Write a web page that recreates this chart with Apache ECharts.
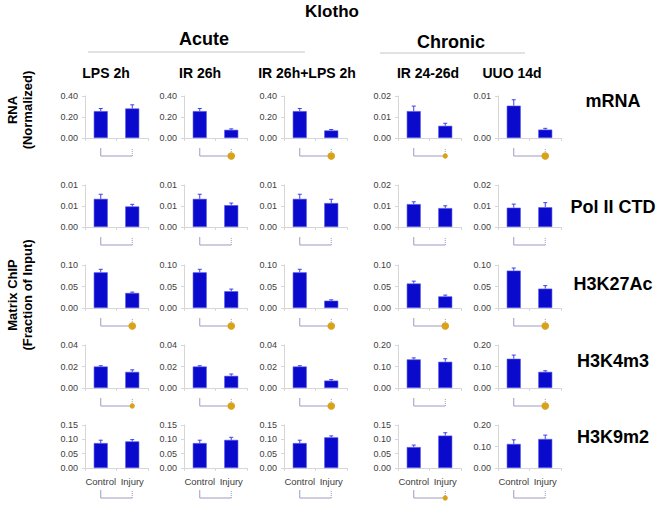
<!DOCTYPE html>
<html><head><meta charset="utf-8">
<script src="https://cdn.jsdelivr.net/npm/echarts@6/dist/echarts.min.js"></script>
<style>html,body{margin:0;padding:0;background:#fff}#c{width:660px;height:519px}</style>
</head><body><div id="c"></div>
<script>
const categories = ['Control', 'Injury'];
const columns = ['LPS 2h', 'IR 26h', 'IR 26h+LPS 2h', 'IR 24-26d', 'UUO 14d'];
const rowNames = ['mRNA', 'Pol II CTD', 'H3K27Ac', 'H3K4m3', 'H3K9m2'];

const mrnaValues = [[0.256, 0.281], [0.256, 0.078], [0.256, 0.072], [0.0128, 0.0058], [0.0077, 0.0020]];
const mrnaErrors = [[0.025, 0.035], [0.025, 0.009], [0.025, 0.009], [0.0024, 0.0012], [0.0014, 0.0003]];
const polValues = [[0.0067, 0.0049], [0.0067, 0.0052], [0.0067, 0.0057], [0.0109, 0.0090], [0.0092, 0.0094]];
const polErrors = [[0.0011, 0.0005], [0.0011, 0.0005], [0.0011, 0.0009], [0.0011, 0.0011], [0.0017, 0.0022]];
const k27Values = [[0.083, 0.035], [0.083, 0.039], [0.083, 0.017], [0.057, 0.027], [0.087, 0.045]];
const k27Errors = [[0.007, 0.002], [0.007, 0.005], [0.007, 0.002], [0.0055, 0.003], [0.006, 0.007]];
const k4Values = [[0.020, 0.015], [0.020, 0.0113], [0.020, 0.0069], [0.133, 0.122], [0.136, 0.075]];
const k4Errors = [[0.0007, 0.0019], [0.0007, 0.0017], [0.0007, 0.0009], [0.007, 0.014], [0.017, 0.005]];
const k9Values = [[0.087, 0.093], [0.087, 0.098], [0.087, 0.107], [0.073, 0.113], [0.112, 0.135]];
const k9Errors = [[0.010, 0.006], [0.010, 0.009], [0.010, 0.005], [0.007, 0.010], [0.019, 0.018]];

const axisMax = [[0.40, 0.40, 0.40, 0.02, 0.01], [0.01, 0.01, 0.01, 0.02, 0.02], [0.10, 0.10, 0.10, 0.10, 0.10], [0.04, 0.04, 0.04, 0.20, 0.20], [0.15, 0.15, 0.15, 0.15, 0.20]];
const axisInterval = [[0.20, 0.20, 0.20, 0.01, 0.01], [0.005, 0.005, 0.005, 0.01, 0.01], [0.05, 0.05, 0.05, 0.05, 0.05], [0.02, 0.02, 0.02, 0.10, 0.10], [0.05, 0.05, 0.05, 0.05, 0.10]];
// significance marker: 0 none, 1 small dot, 2 large dot
const sigDots = [[0, 2, 2, 1, 2], [0, 0, 0, 0, 0], [2, 2, 2, 2, 2], [1, 2, 2, 0, 2], [0, 0, 0, 1, 0]];

const allValues = [mrnaValues, polValues, k27Values, k4Values, k9Values];
const allErrors = [mrnaErrors, polErrors, k27Errors, k4Errors, k9Errors];

// layout
const colLeft = [85, 184, 284, 398, 498];
const plotW = 63;
const rowTop = [96, 185, 265, 345, 425];
const rowBottom = [138, 227, 308, 388, 468];
const colTitleX = [106, 200, 307, 428, 512];
const rowLabelY = [101, 207, 284, 361, 437];

const FONT = 'Liberation Sans, Arial, sans-serif';
const BAR = '#0a0acd';
const AXIS = '#d6d6d6';
const BRK = '#9c9cc0';
const DOT = '#d9a21b';

const grids = [], xAxes = [], yAxes = [], series = [];
let gi = 0;
for (let r = 0; r < 5; r++) {
  for (let c = 0; c < 5; c++) {
    grids.push({ left: colLeft[c], top: rowTop[r], width: plotW, height: rowBottom[r] - rowTop[r], containLabel: false });
    xAxes.push({
      type: 'category', gridIndex: gi, data: categories,
      axisLine: { lineStyle: { color: AXIS, width: 1 } },
      axisTick: { show: true, length: 3, lineStyle: { color: AXIS } },
      axisLabel: { show: r === 4, interval: 0, fontFamily: FONT, fontSize: 9.5, color: '#404040', margin: 8 }
    });
    yAxes.push({
      type: 'value', gridIndex: gi, min: 0, max: axisMax[r][c], interval: axisInterval[r][c],
      splitLine: { show: false },
      axisLine: { show: true, lineStyle: { color: AXIS } },
      axisTick: { show: true, length: 3, lineStyle: { color: AXIS } },
      axisLabel: { fontFamily: FONT, fontSize: 9, color: '#404040', margin: 7, formatter: v => v.toFixed(2) }
    });
    const vals = allValues[r][c];
    const errs = allErrors[r][c];
    series.push({
      type: 'bar', xAxisIndex: gi, yAxisIndex: gi, barWidth: 14,
      itemStyle: { color: BAR, borderColor: '#5555ee', borderWidth: 0.6 },
      data: vals, silent: true, animation: false
    });
    series.push({
      type: 'custom', xAxisIndex: gi, yAxisIndex: gi, animation: false, silent: true, z: 3,
      data: vals.map((v, i) => [i, v, errs[i]]),
      encode: { x: 0, y: 1 },
      renderItem: function (params, api) {
        const i = api.value(0), v = api.value(1), e = api.value(2);
        const p0 = api.coord([i, v]);
        const p1 = api.coord([i, v + e]);
        return {
          type: 'group', children: [
            { type: 'line', shape: { x1: p0[0], y1: p0[1], x2: p1[0], y2: p1[1] }, style: { stroke: '#4040e0', lineWidth: 1 } },
            { type: 'line', shape: { x1: p1[0] - 2, y1: p1[1], x2: p1[0] + 2, y2: p1[1] }, style: { stroke: '#4040e0', lineWidth: 1 } }
          ]
        };
      }
    });
    const off = r === 4 ? 30 : 18;
    series.push({
      type: 'custom', xAxisIndex: gi, yAxisIndex: gi, animation: false, silent: true, clip: false,
      data: [[0, 0, sigDots[r][c]]],
      encode: { x: 0, y: 1 },
      renderItem: function (params, api) {
        const a = api.coord([0, 0]);
        const b = api.coord([1, 0]);
        const y = a[1] + off;
        const s = api.value(2);
        const ch = [
          { type: 'polyline', shape: { points: [[a[0], y - 8], [a[0], y], [b[0], y]] }, style: { stroke: BRK, lineWidth: 1, fill: null } },
          { type: 'line', shape: { x1: b[0], y1: y, x2: b[0], y2: y - 8 }, style: { stroke: BRK, lineWidth: 1, lineDash: [1, 1] } }
        ];
        if (s > 0) ch.push({ type: 'circle', shape: { cx: b[0], cy: y, r: s === 2 ? 3.8 : 2.6 }, style: { fill: DOT } });
        return { type: 'group', children: ch };
      }
    });
    gi++;
  }
}

const graphics = [
  { type: 'line', shape: { x1: 88, y1: 52, x2: 305, y2: 52 }, style: { stroke: '#d8d8d8', lineWidth: 1.5 } },
  { type: 'line', shape: { x1: 380, y1: 53, x2: 525, y2: 53 }, style: { stroke: '#d8d8d8', lineWidth: 1.5 } },
  { type: 'text', x: 332, y: 11, style: { text: 'Klotho', font: 'bold 17px ' + FONT, fill: '#000', textAlign: 'center', textVerticalAlign: 'middle' } },
  { type: 'text', x: 204, y: 39, style: { text: 'Acute', font: 'bold 18px ' + FONT, fill: '#000', textAlign: 'center', textVerticalAlign: 'middle' } },
  { type: 'text', x: 451, y: 42, style: { text: 'Chronic', font: 'bold 18px ' + FONT, fill: '#000', textAlign: 'center', textVerticalAlign: 'middle' } },
  { type: 'text', x: 12, y: 110, rotation: Math.PI / 2, style: { text: 'RNA', font: 'bold 13px ' + FONT, fill: '#000', textAlign: 'center', textVerticalAlign: 'middle' } },
  { type: 'text', x: 27, y: 110, rotation: Math.PI / 2, style: { text: '(Normalized)', font: 'bold 13px ' + FONT, fill: '#000', textAlign: 'center', textVerticalAlign: 'middle' } },
  { type: 'text', x: 12, y: 295, rotation: Math.PI / 2, style: { text: 'Matrix ChIP', font: 'bold 13px ' + FONT, fill: '#000', textAlign: 'center', textVerticalAlign: 'middle' } },
  { type: 'text', x: 27, y: 295, rotation: Math.PI / 2, style: { text: '(Fraction of Input)', font: 'bold 13px ' + FONT, fill: '#000', textAlign: 'center', textVerticalAlign: 'middle' } }
];
columns.forEach((t, c) => graphics.push({ type: 'text', x: colTitleX[c], y: 73, style: { text: t, font: 'bold 14px ' + FONT, fill: '#000', textAlign: 'center', textVerticalAlign: 'middle' } }));
rowNames.forEach((t, r) => graphics.push({ type: 'text', x: 613, y: rowLabelY[r], style: { text: t, font: 'bold 18px ' + FONT, fill: '#000', textAlign: 'center', textVerticalAlign: 'middle' } }));

const chart = echarts.init(document.getElementById('c'), null, { renderer: 'svg' });
chart.setOption({
  animation: false,
  grid: grids, xAxis: xAxes, yAxis: yAxes, series: series,
  graphic: graphics
});
</script></body></html>
